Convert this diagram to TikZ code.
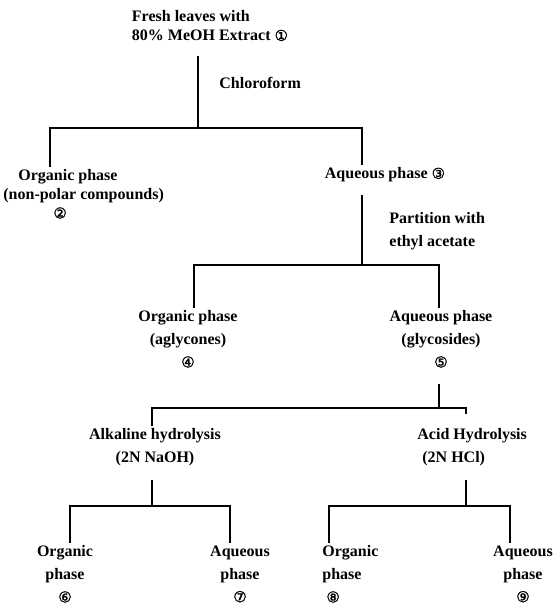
\documentclass[tikz,border=0pt]{standalone}
\usepackage{fontspec}
\setmainfont{Liberation Serif}
\newfontfamily\circfont[FakeBold=1.5]{DejaVu Sans}
\newcommand{\circnum}[1]{{\circfont\mdseries\fontsize{7.5}{7.5}\selectfont #1}}

\begin{document}
\begin{tikzpicture}[
  x=0.5pt, y=-0.5pt,
  every node/.style = {
    font=\bfseries\fontsize{8}{11.5}\selectfont,
    inner sep=1pt,
    align=center
  },
  tight/.style = {font=\bfseries\fontsize{8}{9.5}\selectfont},
  fork/.style = {line width=0.7pt}
]
\useasboundingbox (0,0) rectangle (557,606);

\node[tight, align=left] (extract) at (210,26) {Fresh leaves with\\80\% MeOH Extract \circnum{①}};
\node[anchor=west] (chloro) at (217,83) {Chloroform};
\node[tight, align=left, anchor=north west] (orgA) at (1,167) {\hspace*{7.5pt}Organic phase\\(non-polar compounds)\\\hspace*{25pt}\circnum{②}};
\node (aqA) at (385,175) {Aqueous phase \circnum{③}};
\node[align=left, anchor=west] (partition) at (387,231) {Partition with\\ethyl acetate};
\node (orgB) at (188,339) {Organic phase\\(aglycones)\\\circnum{④}};
\node (aqB) at (441,339) {Aqueous phase\\(glycosides)\\\circnum{⑤}};
\node (alkaline) at (155,447) {Alkaline hydrolysis\\(2N NaOH)};
\node[align=left, anchor=west] (acid) at (415,447) {Acid Hydrolysis\\\hspace*{2.5pt}(2N HCl)};
\node (orgC) at (65,574) {Organic\\phase\\\circnum{⑥}};
\node (aqC) at (240,574) {Aqueous\\phase\\\circnum{⑦}};
\node[align=left, anchor=west] (orgD) at (320,574) {Organic\\phase\\\hspace*{2pt}\circnum{⑧}};
\node (aqD) at (523,574) {Aqueous\\phase\\\circnum{⑨}};

\coordinate (f1) at (198,128);
\coordinate (f1l) at (50,128);
\coordinate (f1r) at (362,128);
\coordinate (f2) at (362,265);
\coordinate (f2l) at (194,265);
\coordinate (f2r) at (439,265);
\coordinate (f3) at (439,408);
\coordinate (f3l) at (152,408);
\coordinate (f3r) at (466,408);
\coordinate (f4) at (152,506);
\coordinate (f4l) at (70,506);
\coordinate (f4r) at (230,506);
\coordinate (f5) at (466,506);
\coordinate (f5l) at (329,506);
\coordinate (f5r) at (510,506);

\draw[fork, shorten <=6pt] (extract.south -| f1) -- (f1);
\draw[fork] (orgA.north -| f1l) -- (f1l) -- (f1r) -- (aqA.north -| f1r);
\draw[fork, shorten <=5pt] (aqA.south -| f2) -- (f2);
\draw[fork] (orgB.north -| f2l) -- (f2l) -- (f2r) -- (aqB.north -| f2r);
\draw[fork, shorten <=7pt] (aqB.south -| f3) -- (f3);
\draw[fork, shorten >=6pt] (alkaline.north -| f3l) -- (f3l) -- (f3r) -- (acid.north -| f3r);
\draw[fork, shorten <=6pt] (alkaline.south -| f4) -- (f4);
\draw[fork, shorten <=6pt] (acid.south -| f5) -- (f5);
\draw[fork] (orgC.north -| f4l) -- (f4l) -- (f4r) -- (aqC.north -| f4r);
\draw[fork] (orgD.north -| f5l) -- (f5l) -- (f5r) -- (aqD.north -| f5r);
\end{tikzpicture}
\end{document}
